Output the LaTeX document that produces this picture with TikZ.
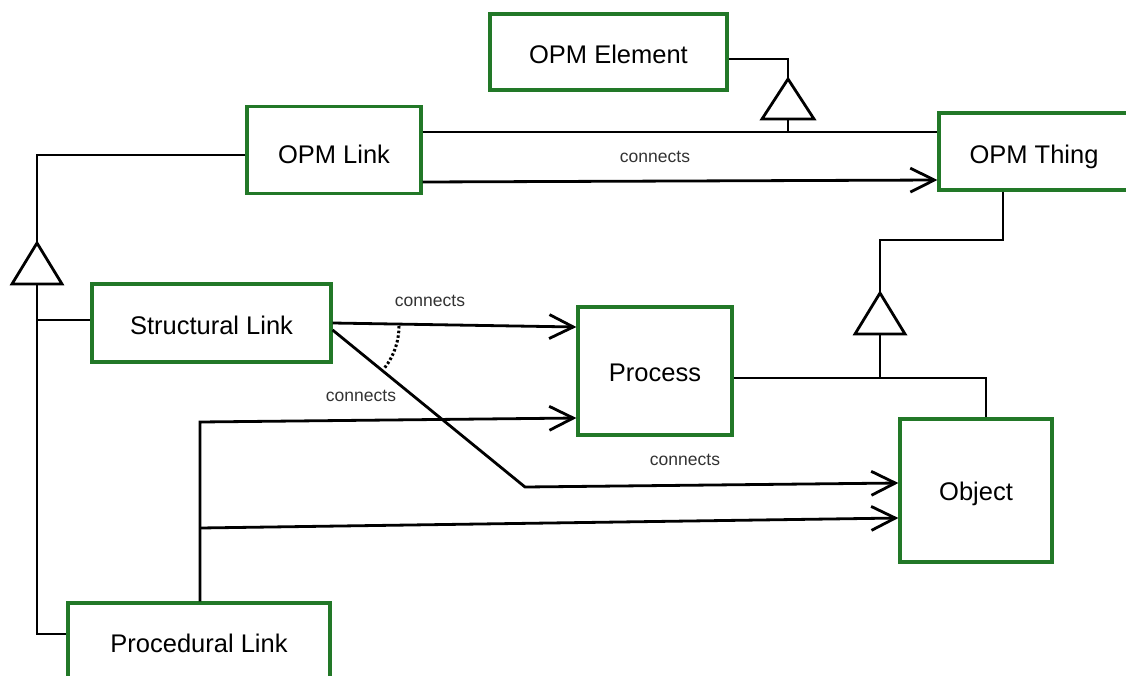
\documentclass[tikz,border=0pt]{standalone}
\usepackage{fontspec}
\setmainfont{Liberation Sans}
\usetikzlibrary{arrows.meta,calc}
\definecolor{boxgreen}{RGB}{34,120,40}
\newcommand\shiftdown[2]{\raisebox{-#1}[\height][\depth]{#2}}
\begin{document}
\begin{tikzpicture}[x=1pt,y=-1pt,
  box/.style={draw=boxgreen,line width=3.2pt,fill=white,font=\fontsize{25.5}{30}\selectfont,inner sep=0pt},
  ln/.style={line width=2.8pt,draw=black},
  arr/.style={ln,-{Straight Barb[length=24pt,width=24pt]}},
  lbl/.style={font=\fontsize{17.5}{20}\selectfont,text=black!80,inner sep=0pt},
  tri/.style={ln,fill=white,line join=miter},
  dotarc/.style={line width=3pt,dash pattern=on 2.5pt off 2.2pt}]
\useasboundingbox (0,0) rectangle (1126,675);
\fill[white] (0,0) rectangle (1126,675);
\clip (0,0) rectangle (1126,675);

% boxes
\node[box,minimum width=237pt,minimum height=76pt] (el) at (608.5,52) {\shiftdown{2pt}{OPM Element}};
\node[box,minimum width=174pt,minimum height=87pt] (lk) at (334,150) {\shiftdown{4pt}{OPM Link}};
\node[box,minimum width=190pt,minimum height=77pt] (th) at (1034,151.5) {\shiftdown{5pt}{OPM Thing}};
\node[box,minimum width=239pt,minimum height=78pt] (sl) at (211.5,323) {\shiftdown{2pt}{Structural Link}};
\node[box,minimum width=154pt,minimum height=128pt] (pr) at (655,371) {\shiftdown{2pt}{Process}};
\node[box,minimum width=152pt,minimum height=143pt] (ob) at (976,490.5) {\shiftdown{3pt}{Object}};
\node[box,minimum width=262pt,minimum height=80pt] (pl) at (199,643) {Procedural Link};

% generalization triangles (apexes)
\coordinate (g1) at (788,79);
\coordinate (g2) at (880,293);
\coordinate (g3) at (37,243);

% OPM Element <- OPM Link / OPM Thing
\draw[ln] (el.east |- 0,59) -| (g1);
\draw[tri] (g1) -- ++(-26,40) -- ++(52,0) -- cycle;
\draw[ln] (788,119) -- (788,132);
\draw[ln] (lk.east |- 0,132) -- (th.west |- 0,132);

% OPM Link connects OPM Thing
\draw[arr] (lk.east |- 0,182) -- (th.west |- 0,180);
\node[lbl] (c1) at (655,157) {connects};

% OPM Thing <- Process / Object
\draw[ln] (1003,0 |- th.south) |- (880,240) -- (g2);
\draw[tri] (g2) -- ++(-25,41) -- ++(50,0) -- cycle;
\draw[ln] (880,334) -- (880,378);
\draw[ln] (pr.east |- 0,378) -| (986,0 |- ob.north);

% OPM Link <- Structural / Procedural
\draw[ln] (lk.west |- 0,155) -| (g3);
\draw[tri] (g3) -- ++(-25,41) -- ++(50,0) -- cycle;
\draw[ln] (37,284) |- (pl.west |- 0,634);
\draw[ln] (37,320) -- (sl.west |- 0,320);

% Structural Link connects Process / Object
\draw[arr] (sl.east) -- (pr.west |- 0,327);
\node[lbl] (c2) at (430,301) {connects};
\draw[arr] (sl.east |- 0,330) -- (525,487) -- (ob.west |- 0,483);
\node[lbl] (c3) at (361,396) {connects};
\node[lbl] (c4) at (685,460) {connects};
\draw[dotarc] plot[domain=0:39,samples=20,smooth] ({331+68*cos(\x)},{326+68*sin(\x)});

% Procedural Link to Process / Object
\draw[arr] (200,0 |- pl.north) -- (200,422) -- (pr.west |- 0,418);
\draw[arr] (200,528) -- (ob.west |- 0,518);
\end{tikzpicture}
\end{document}
